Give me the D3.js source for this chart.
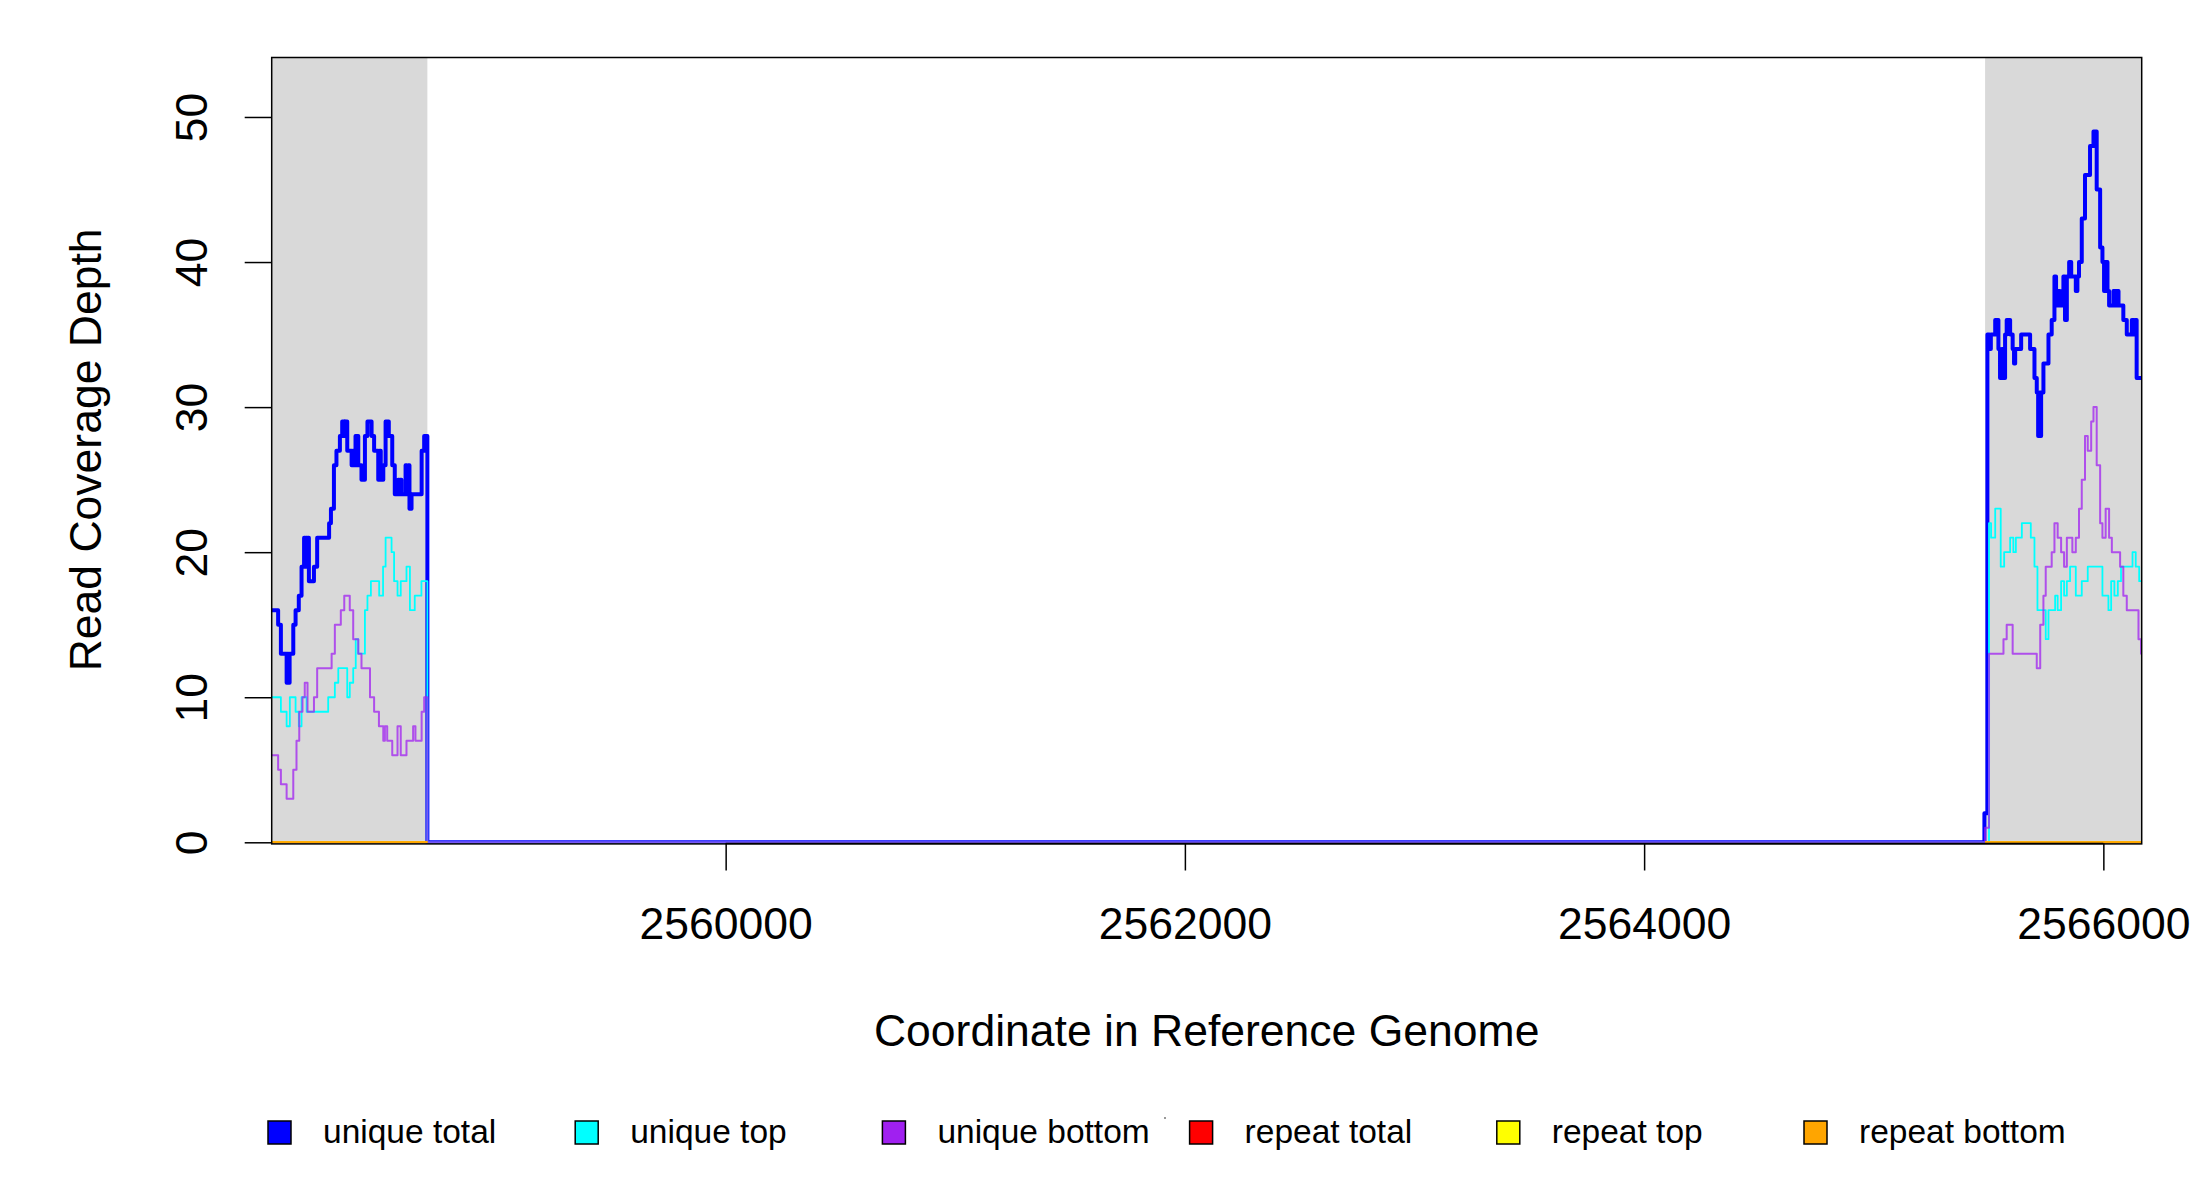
<!DOCTYPE html>
<html><head><meta charset="utf-8">
<script src="https://cdn.jsdelivr.net/npm/d3@7"></script>
<style>
body{margin:0;background:#fff}
svg{display:block}
text{font-family:"Liberation Sans", Arial, Helvetica, sans-serif;fill:#000}
</style>
</head><body>
<svg id="chart" width="2200" height="1200"></svg>
<script>
// ---------------- data ----------------
const windowStart = 2558023, windowEnd = 2566167;
const flankLeft = [2558023, 2558701];
const flankRight = [2565485, 2566167];
const xTicks = [2560000, 2562000, 2564000, 2566000];
const yTicks = [0, 10, 20, 30, 40, 50];
const yMax = 54.1;

// step data: [offset in bp from flank start, read depth]
const uniqueTotalLeft = [[0,16],[28,15],[40,13],[65,11],[69,13],[73,11],[78,13],[94,15],[104,16],[118,17],[130,19],[141,21],[145,19],[149,21],[153,19],[157,21],[162,18],[184,19],[198,21],[250,22],[258,23],[271,26],[282,27],[297,28],[307,29],[316,28],[320,29],[329,27],[348,26],[353,27],[359,26],[365,28],[369,26],[373,28],[377,26],[391,25],[406,28],[417,29],[435,28],[446,27],[464,25],[470,27],[475,25],[486,26],[496,29],[510,28],[525,26],[536,24],[551,25],[555,24],[560,25],[565,24],[583,26],[589,24],[595,26],[600,23],[609,24],[653,27],[664,28]];
const uniqueTopLeft = [[0,10],[40,9],[65,8],[79,10],[104,9],[118,8],[130,10],[152,9],[246,10],[275,11],[290,12],[329,10],[340,11],[355,12],[366,14],[377,13],[406,16],[417,17],[432,18],[468,17],[485,19],[496,21],[522,20],[533,18],[548,17],[562,18],[587,19],[602,16],[623,17],[652,18]];
const uniqueBottomLeft = [[0,6],[28,5],[40,4],[65,3],[94,5],[108,7],[120,9],[134,10],[144,11],[156,9],[184,10],[198,12],[261,13],[275,15],[301,16],[316,17],[340,16],[355,14],[377,13],[391,12],[428,10],[446,9],[467,8],[486,7],[493,8],[503,7],[525,6],[548,8],[562,6],[587,7],[616,8],[626,7],[653,9],[664,10]];

const uniqueTotalRight = [[-3,2],[10,35],[19,34],[25,35],[44,36],[58,34],[65,32],[73,34],[80,32],[87,35],[94,36],[109,35],[120,34],[126,33],[131,34],[157,35],[196,34],[215,32],[225,31],[231,28],[237,31],[241,28],[244,31],[254,33],[276,35],[290,36],[302,39],[309,37],[316,38],[325,37],[334,38],[341,39],[348,36],[356,39],[366,40],[375,39],[395,38],[402,39],[409,40],[421,43],[435,46],[457,48],[472,49],[486,45],[501,41],[511,40],[518,38],[525,40],[533,38],[540,37],[559,38],[566,37],[573,38],[581,37],[602,36],[617,35],[639,36],[646,35],[653,36],[660,32]];
const uniqueTopRight = [[17,22],[26,21],[44,23],[68,19],[83,20],[109,21],[123,20],[134,21],[160,22],[199,21],[215,19],[228,16],[264,14],[276,16],[305,17],[316,16],[331,18],[344,17],[356,18],[370,19],[395,17],[421,18],[447,19],[511,17],[537,16],[549,18],[563,17],[578,18],[592,19],[642,20],[656,19],[671,18]];
const uniqueBottomRight = [[0,1],[17,13],[80,14],[94,15],[120,13],[225,12],[240,15],[254,17],[264,19],[290,20],[302,22],[316,21],[331,20],[344,19],[356,21],[380,20],[395,21],[409,23],[421,25],[435,28],[447,27],[462,29],[472,30],[486,26],[501,22],[511,21],[525,23],[540,21],[552,20],[588,19],[602,17],[617,16],[668,14],[679,13]];

// repeat series are zero across both flanks
const repeatTotal = [0, 0];
const repeatTop = [0, 0];
const repeatBottom = [0, 0];

const seriesNames = ["unique total","unique top","unique bottom","repeat total","repeat top","repeat bottom"];
const seriesColors = ["#0000FF","#00FFFF","#A020F0","#FF0000","#FFFF00","#FFA500"];

// ---------------- chart ----------------
const svg = d3.select("#chart");
const L = 271.7, R = 2141.7, T = 57.5, B0 = 842.3;
const x = d3.scaleLinear([windowStart, windowEnd], [L, R]);
const y = d3.scaleLinear([0, yMax], [B0, T]);
const axisFont = "44.5px", legendFont = "33.5px";

svg.append("defs").append("clipPath").attr("id","plotclip")
  .append("rect").attr("x", L).attr("y", T).attr("width", R - L).attr("height", B0 + 1.2 - T);

// flank shading
[flankLeft, flankRight].forEach(f => {
  svg.append("rect").attr("x", x(f[0])).attr("y", T)
    .attr("width", x(f[1]) - x(f[0])).attr("height", B0 + 1.2 - T)
    .attr("fill", "#D9D9D9");
});

function build(leftPairs, rightPairs) {
  const pts = leftPairs.map(([o, v]) => [flankLeft[0] + o, v]);
  pts.push([flankLeft[1], 0]);
  rightPairs.forEach(([o, v]) => pts.push([flankRight[0] + o, v]));
  pts.push([flankRight[1], rightPairs[rightPairs.length - 1][1]]);
  return pts;
}

const line = d3.line().x(d => x(d[0])).y(d => y(d[1])).curve(d3.curveStepAfter);
const plot = svg.append("g").attr("clip-path", "url(#plotclip)");

const uniqueSeries = [
  {data: build(uniqueTotalLeft, uniqueTotalRight), color: seriesColors[0], w: 4, op: 1},
  {data: build(uniqueTopLeft, uniqueTopRight), color: seriesColors[1], w: 1.8, op: 1},
  {data: build(uniqueBottomLeft, uniqueBottomRight), color: seriesColors[2], w: 2, op: 0.75}
];
uniqueSeries.forEach(s => {
  plot.append("path").attr("d", line(s.data)).attr("fill", "none")
    .attr("stroke", s.color).attr("stroke-width", s.w).attr("stroke-opacity", s.op)
    .attr("stroke-linejoin", "round").attr("stroke-linecap", "round");
});

[repeatTotal, repeatTop, repeatBottom].forEach((vals, i) => {
  [flankLeft, flankRight].forEach(f => {
    const pts = [[f[0], vals[0]], [f[1], vals[1]]];
    plot.append("path").attr("d", line(pts)).attr("fill", "none")
      .attr("stroke", seriesColors[3 + i]).attr("stroke-width", 2);
  });
});

// box
svg.append("rect").attr("x", L).attr("y", T).attr("width", R - L).attr("height", B0 + 1.6 - T)
  .attr("fill", "none").attr("stroke", "#000").attr("stroke-width", 1.5);

// y axis
const yAxis = svg.append("g").attr("transform", `translate(${L},0)`)
  .call(d3.axisLeft(y).tickValues(yTicks).tickSize(27).tickSizeOuter(0));
yAxis.select(".domain").remove();
yAxis.selectAll(".tick line").attr("stroke", "#000").attr("stroke-width", 1.5);
yAxis.selectAll(".tick text")
  .attr("x", null).attr("dy", null)
  .attr("text-anchor", "middle")
  .attr("transform", "translate(-65,0) rotate(-90)")
  .style("font-size", axisFont)
  .style("font-family", "'Liberation Sans', Arial, sans-serif")
  .attr("fill", "#000");

// x axis
const xAxis = svg.append("g").attr("transform", `translate(0,${B0 + 1.2})`)
  .call(d3.axisBottom(x).tickValues(xTicks).tickSize(27).tickFormat(d3.format("d")));
xAxis.select(".domain").remove();
xAxis.selectAll(".tick line").attr("stroke", "#000").attr("stroke-width", 1.5);
xAxis.selectAll(".tick text")
  .attr("y", 95).attr("dy", null)
  .style("font-size", axisFont)
  .style("font-family", "'Liberation Sans', Arial, sans-serif")
  .attr("fill", "#000");
svg.append("line").attr("x1", x(xTicks[0])).attr("x2", x(xTicks[xTicks.length - 1]))
  .attr("y1", B0 + 1.2).attr("y2", B0 + 1.2).attr("stroke", "#000").attr("stroke-width", 1.5);

// titles
svg.append("text").attr("x", (L + R) / 2).attr("y", 1046).attr("text-anchor", "middle")
  .style("font-size", axisFont).text("Coordinate in Reference Genome");
svg.append("text").attr("transform", `translate(101,${(T + B0) / 2}) rotate(-90)`)
  .attr("text-anchor", "middle").style("font-size", axisFont).text("Read Coverage Depth");

// legend
const legend = svg.append("g");
seriesNames.forEach((name, i) => {
  const gx = 268 + 307.2 * i;
  legend.append("rect").attr("x", gx).attr("y", 1121).attr("width", 23).attr("height", 23)
    .attr("fill", seriesColors[i]).attr("stroke", "#000").attr("stroke-width", 1.5);
  legend.append("text").attr("x", gx + 55).attr("y", 1143).style("font-size", legendFont).text(name);
});
legend.append("circle").attr("cx", 1165).attr("cy", 1118).attr("r", 1).attr("fill", "#777");
</script>
</body></html>
